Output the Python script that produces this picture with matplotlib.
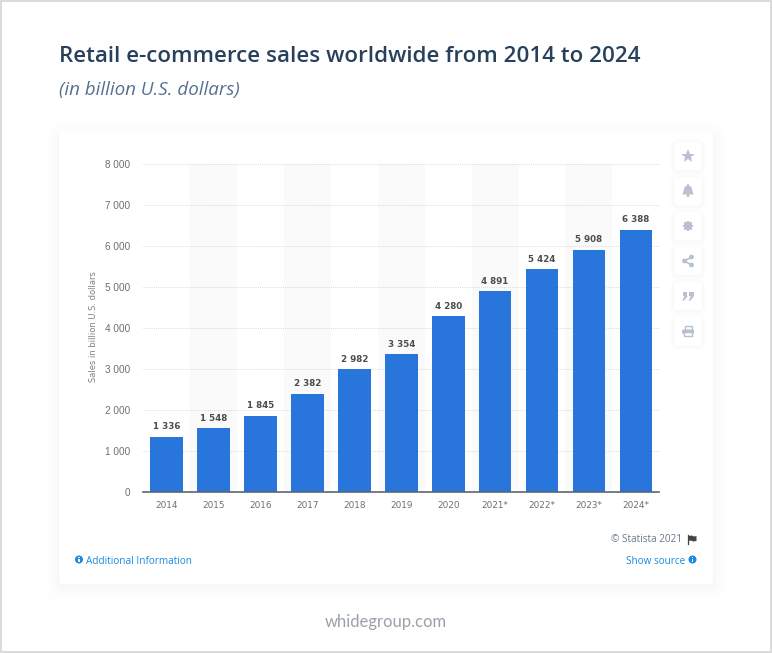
import matplotlib.pyplot as plt
import numpy as np
from matplotlib.patches import Circle, FancyBboxPatch, Polygon, Rectangle

years = ["2014", "2015", "2016", "2017", "2018", "2019", "2020", "2021*", "2022*", "2023*", "2024*"]
sales = [1336, 1548, 1845, 2382, 2982, 3354, 4280, 4891, 5424, 5908, 6388]
y_ticks = [0, 1000, 2000, 3000, 4000, 5000, 6000, 7000, 8000]

BLUE = "#2875dc"
LINK = "#1a8ae0"
ICON = "#b9c1cf"
W, H = 772, 653


def fmt(value):
    return f"{value:,}".replace(",", " ")


def rounded_box(ax, x, y, w, h, radius, **kwargs):
    ax.add_patch(
        FancyBboxPatch(
            (x + radius, y + radius),
            w - 2 * radius,
            h - 2 * radius,
            boxstyle=f"round,pad={radius}",
            **kwargs,
        )
    )


def info_icon(ax, x, y):
    ax.add_patch(Circle((x, y), 4, color=LINK, lw=0))
    ax.add_patch(Rectangle((x - 0.9, y - 0.9), 1.8, 3.6, color="white", lw=0))
    ax.add_patch(Rectangle((x - 0.9, y - 2.9), 1.8, 1.3, color="white", lw=0))


def draw_icons(ax, x, ys):
    # star
    ax.plot(x, ys[0], marker="*", ms=10.5, color=ICON, mew=0)

    # bell
    y = ys[1]
    ax.add_patch(Circle((x, y - 1.5), 4, color=ICON, lw=0))
    ax.add_patch(Polygon([(x - 4, y - 1.5), (x + 4, y - 1.5), (x + 5.5, y + 3.5), (x - 5.5, y + 3.5)],
                         color=ICON, lw=0))
    ax.add_patch(Circle((x, y + 4.5), 1.5, color=ICON, lw=0))
    ax.add_patch(Circle((x, y - 6), 1, color=ICON, lw=0))

    # gear
    y = ys[2]
    for angle in np.arange(0, 180, 45):
        dx, dy = 5.2 * np.cos(np.radians(angle)), 5.2 * np.sin(np.radians(angle))
        ax.plot([x - dx, x + dx], [y - dy, y + dy], color=ICON, lw=1.4, solid_capstyle="butt")
    ax.add_patch(Circle((x, y), 4.2, color=ICON, lw=0))
    ax.add_patch(Circle((x, y), 1.9, color="white", lw=0))

    # share
    y = ys[3]
    ax.plot([x + 3.5, x - 3.5, x + 3.5], [y - 4, y, y + 4], color=ICON, lw=1.2)
    for cx, cy in [(x + 3.5, y - 4), (x - 3.5, y), (x + 3.5, y + 4)]:
        ax.add_patch(Circle((cx, cy), 2.4, color=ICON, lw=0))

    # quote
    y = ys[4]
    for cx in [x - 5.5, x + 0.8]:
        ax.add_patch(Rectangle((cx, y - 4.5), 4.8, 4.8, color=ICON, lw=0))
        ax.add_patch(Polygon([(cx + 4.8, y), (cx + 4.8, y + 1), (cx + 1, y + 5), (cx, y + 5), (cx + 1.8, y)],
                             color=ICON, lw=0))

    # print
    y = ys[5]
    ax.add_patch(Rectangle((x - 3.5, y - 5), 7, 4, fc="none", ec=ICON, lw=1))
    rounded_box(ax, x - 6, y - 1.5, 12, 4.5, 1.2, color=ICON, lw=0)
    ax.add_patch(Rectangle((x - 4, y + 1), 8, 3.5, fc="white", ec=ICON, lw=1))


fig = plt.figure(figsize=(W / 100, H / 100), dpi=100, facecolor="white")

# page layer in pixel coordinates
page = fig.add_axes([0, 0, 1, 1])
page.set_xlim(0, W)
page.set_ylim(H, 0)
page.axis("off")

page.add_patch(Rectangle((0.5, 0.5), W - 1.5, H - 1.5, fc="white", ec="#d4d4d4", lw=1.2))

page.text(59, 57, "Retail e-commerce sales worldwide from 2014 to 2024", family="Open Sans",
          fontsize=16.15, fontweight=600, color="#27405c", va="center")
page.text(59, 90, "(in billion U.S. dollars)", family="Open Sans", style="italic",
          fontsize=13.5, color="#56708f", va="center")

# card with soft shadow
for grow, alpha in [(14, 0.003), (10, 0.004), (7, 0.005), (4, 0.006), (2, 0.008)]:
    rounded_box(page, 59 - grow, 131 - grow + 4, 654 + 2 * grow, 453 + 2 * grow, 4 + grow,
                fc="#203050", ec="none", alpha=alpha)
rounded_box(page, 59, 131, 654, 453, 4, fc="white", ec="none")

# side buttons
button_ys = [156, 191, 226, 261, 296, 331]
for by in button_ys:
    for grow, alpha in [(4, 0.006), (2, 0.01)]:
        rounded_box(page, 674 - grow, by - 14 - grow + 1, 28 + 2 * grow, 28 + 2 * grow, 3 + grow,
                    fc="#203050", ec="none", alpha=alpha)
    rounded_box(page, 674, by - 14, 28, 28, 3, fc="white", ec="none")
draw_icons(page, 688, button_ys)

# footer
page.text(646.5, 540, "© Statista 2021", family="Open Sans", fontsize=7.2, color="#66788f",
          ha="center", va="center")
page.plot([688, 688], [535, 544], color="#444444", lw=0.9)
page.add_patch(Polygon([(688.5, 536), (692, 535.5), (694, 536.5), (696.5, 536), (696.5, 541), (693, 541.5),
                        (691, 540.5), (688.5, 541)], color="#444444", lw=0))
info_icon(page, 79, 559.5)
page.text(86.5, 561, "Additional Information", family="Open Sans", fontsize=7.2, color=LINK, va="center")
page.text(685, 561, "Show source", family="Open Sans", fontsize=7.2, color=LINK, ha="right", va="center")
info_icon(page, 692.5, 559.5)
page.text(386, 622, "whidegroup.com", family="Lato", fontsize=12, color="#9aa1aa",
          ha="center", va="center")

# chart
ax = fig.add_axes([143.3 / W, 1 - 491.5 / H, 516 / W, 327.5 / H])
ax.patch.set_alpha(0)
x = np.arange(len(years))

for i in x[1::2]:
    ax.axvspan(i - 0.5, i + 0.5, color="#fafafa", lw=0, zorder=0)

ax.bar(x, sales, width=0.695, color=BLUE, zorder=3)
for xi, value in zip(x, sales):
    ax.annotate(fmt(value), (xi, value), xytext=(0, 4), textcoords="offset points", ha="center", va="bottom",
                fontsize=6.3, fontweight="bold", color="#4d4d4d", family="DejaVu Sans", zorder=4)

ax.set_xlim(-0.5, 10.5)
ax.set_ylim(0, 8000)
ax.set_xticks(x, years)
ax.set_yticks(y_ticks, [fmt(v) for v in y_ticks])
ax.tick_params(axis="x", length=0, pad=7, labelsize=6.4, labelcolor="#6f6f6f")
ax.tick_params(axis="y", length=0, pad=9.5, labelsize=7.2, labelcolor="#6f6f6f")
for label in ax.get_yticklabels():
    label.set_family("Liberation Sans")
ax.grid(axis="y", color="#cfcfcf", lw=0.6, ls=(0, (1, 1.5)), zorder=1)
ax.set_axisbelow(True)
for side in ["top", "right", "left"]:
    ax.spines[side].set_visible(False)
ax.spines["bottom"].set_color("#5c6670")
ax.spines["bottom"].set_linewidth(1.2)
ax.spines["bottom"].set_zorder(5)

page.text(93, 327, "Sales in billion U.S. dollars", rotation=90, family="DejaVu Sans", fontsize=6,
          color="#808080", ha="center", va="center")

fig.savefig("out.png", dpi=100)
